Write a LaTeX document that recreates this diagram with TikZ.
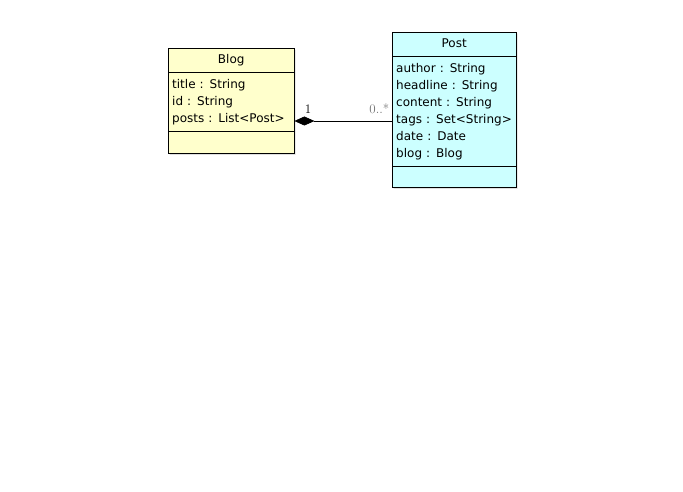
\documentclass[tikz,border=0pt]{standalone}
\usepackage{fontspec}
\setmainfont{DejaVu Sans}
\newfontfamily\multfont{Latin Modern Roman}
\usetikzlibrary{shapes.multipart,arrows.meta,shadows}

\definecolor{blogfill}{HTML}{FFFFCC}
\definecolor{postfill}{HTML}{CCFFFF}

\tikzset{
  umlclass/.style={rectangle split, rectangle split parts=3, draw, thin,
    anchor=north west, text width=#1, inner xsep=4pt, inner ysep=3.5pt,
    align=left, font=\fontsize{12}{17}\selectfont,
    drop shadow={shadow xshift=1.5pt, shadow yshift=-1.5pt, opacity=0.25}},
  composition/.style={{Diamond[length=20pt,width=9pt]}-, line width=0.6pt},
  mult/.style={font=\multfont\fontsize{13}{14}\selectfont, inner sep=0pt}
}

\begin{document}
\begin{tikzpicture}[x=1pt,y=-1pt]
\useasboundingbox (0,0) rectangle (683,492);

\node[umlclass=118pt, fill=blogfill] (blog) at (168,48)
  {\makebox[\hsize]{\strut Blog}
   \nodepart{two}\strut title : String\\
   id : String\\
   posts : List<Post>\strut
   \nodepart{three}\rule{0pt}{15pt}};

\node[umlclass=116pt, fill=postfill] (post) at (392,32)
  {\makebox[\hsize]{\strut Post}
   \nodepart{two}\strut author : String\\
   headline : String\\
   content : String\\
   tags : Set<String>\\
   date : Date\\
   blog : Blog\strut
   \nodepart{three}\rule{0pt}{14pt}};

% composition Blog -- Post
\coordinate (link) at (0,121);
\draw[composition] (blog.east |- link)
  -- node[mult, pos=0.14, above=7pt, text=black] (one) {1}
     node[mult, pos=0.87, above=7pt, text=black!55] (many) {0..*}
  (post.west |- link);
\end{tikzpicture}
\end{document}
